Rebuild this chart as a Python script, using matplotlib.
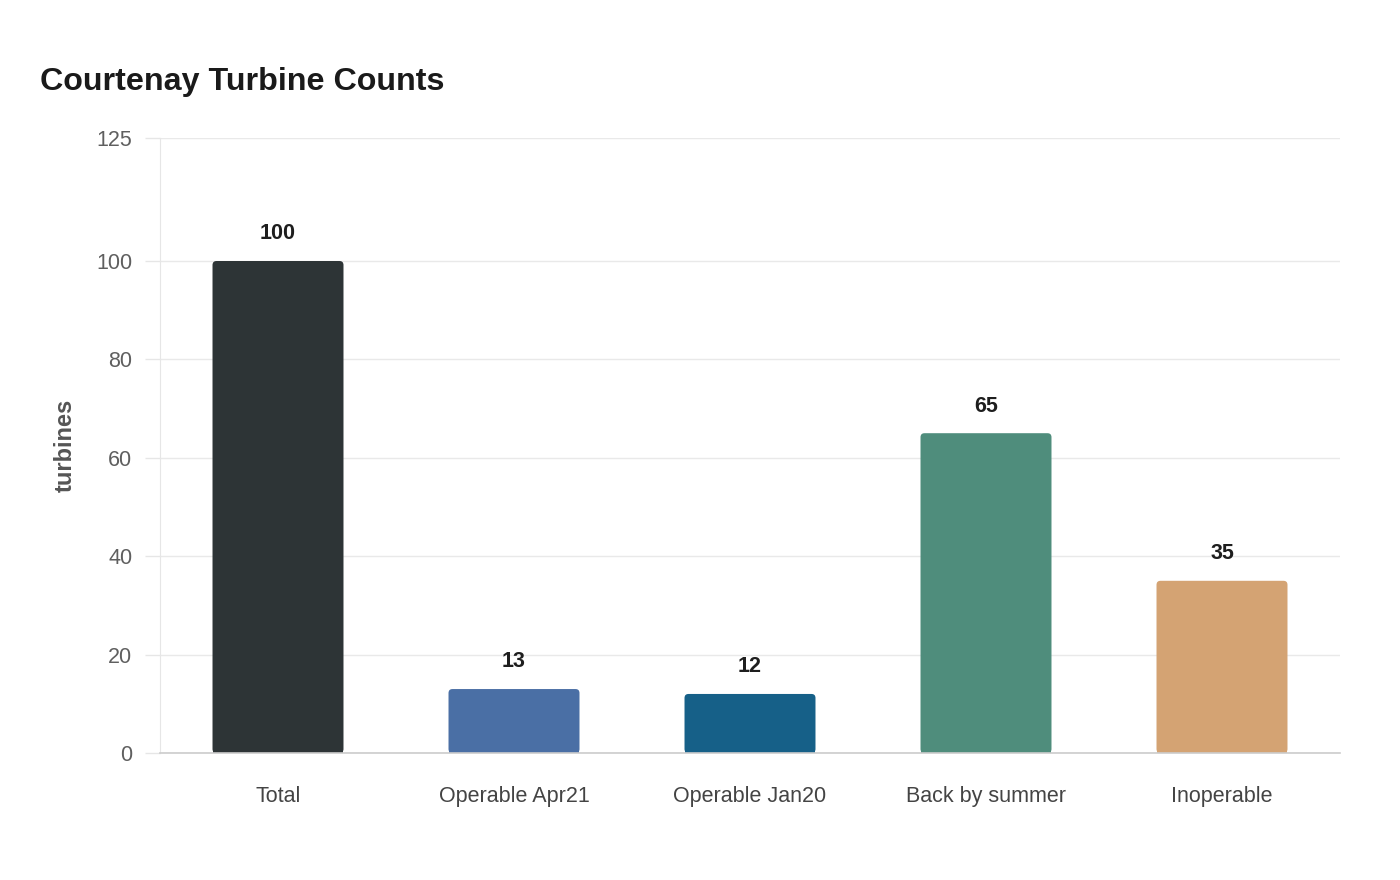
import matplotlib
matplotlib.use('Agg')
import matplotlib.pyplot as plt
from matplotlib.patches import FancyBboxPatch, Rectangle

plt.rcParams['font.family'] = ['Liberation Sans', 'DejaVu Sans']

# 데이터
categories = ['Total', 'Operable Apr21', 'Operable Jan20', 'Back by summer', 'Inoperable']
counts = [100, 13, 12, 65, 35]
colors = ['#2d3436', '#4a6fa5', '#166088', '#4f8d7c', '#d4a373']
yticks = [0, 20, 40, 60, 80, 100, 125]

fig = plt.figure(figsize=(14, 8.8), dpi=100)
fig.patch.set_facecolor('white')
ax = fig.add_axes([160 / 1400, 1 - 753 / 880, 1180 / 1400, 615 / 880])

bars = ax.bar(range(len(categories)), counts, width=0.555, color=colors)
ax.set_xlim(-0.5, len(categories) - 0.5)
ax.set_ylim(0, 125)

# 둥근 모서리 막대로 교체
x_px = 1180 / 5
y_px = 615 / 125
radius = 4 / x_px
for bar, c in zip(bars, colors):
    bar.set_visible(False)
    x, w, h = bar.get_x(), bar.get_width(), bar.get_height()
    ax.add_patch(FancyBboxPatch((x, 0), w, h,
                                boxstyle=f'round,pad=0,rounding_size={radius}',
                                mutation_aspect=x_px / y_px,
                                facecolor=c, edgecolor='none', zorder=3))
    ax.add_patch(Rectangle((x, 0), w, min(h, 2), facecolor=c,
                           edgecolor='none', zorder=3))
    ax.annotate(f'{h:.0f}', (x + w / 2, h), xytext=(0, 12),
                textcoords='offset points', ha='center', va='bottom',
                fontsize=15.5, weight='bold', color='#1e1e1e')

ax.set_yticks(yticks)
ax.set_xticks(range(len(categories)))
ax.set_xticklabels(categories)
ax.tick_params(axis='x', length=0, pad=24, labelsize=15.5, labelcolor='#444444')
ax.tick_params(axis='y', length=11, width=1, color='#e6e6e6', pad=9,
               labelsize=15.5, labelcolor='#5f5f5f')

ax.grid(axis='y', color='#e9e9e9', linewidth=1)
ax.set_axisbelow(True)
for s in ['top', 'right']:
    ax.spines[s].set_visible(False)
ax.spines['left'].set_color('#e6e6e6')
ax.spines['bottom'].set_color('#cccccc')
ax.spines['bottom'].set_linewidth(1.2)
ax.spines['bottom'].set_zorder(4)

ax.set_ylabel('turbines', fontsize=17, weight='bold', color='#555555', labelpad=14)

fig.text(40 / 1400, 1 - 82 / 880, 'Courtenay Turbine Counts', fontsize=23.2,
         weight='bold', color='#1a1a1a', va='center', ha='left')

plt.savefig('out.png', dpi=100, facecolor='white')
plt.close()
